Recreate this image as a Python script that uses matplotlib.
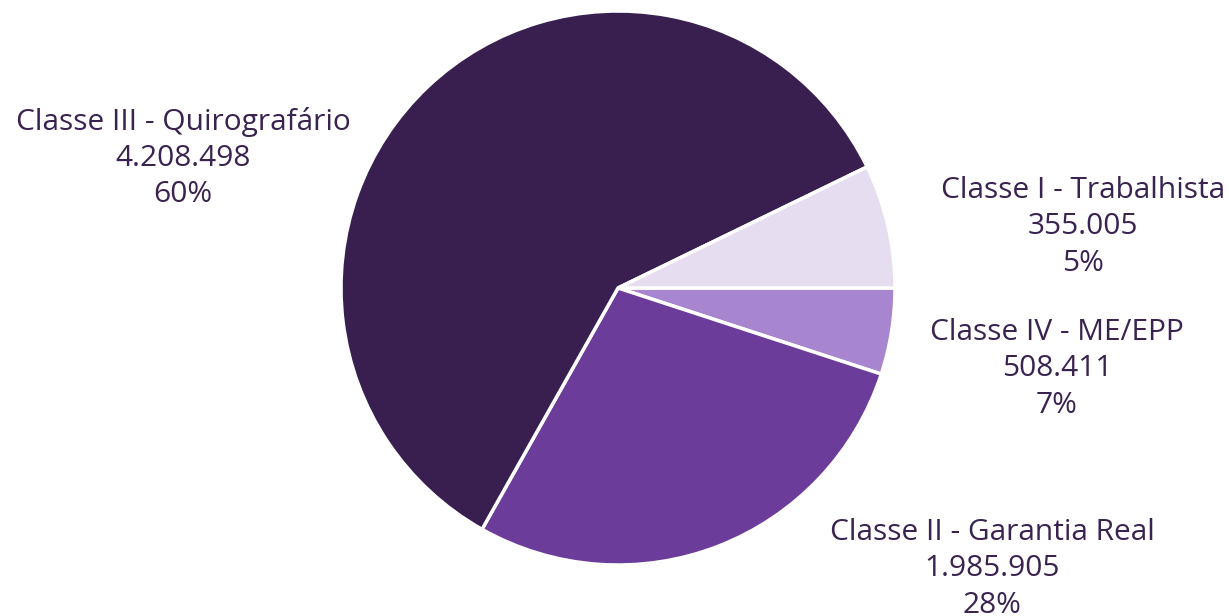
import matplotlib
matplotlib.use("Agg")
import matplotlib.pyplot as plt

# Data
categories = ["Classe I - Trabalhista", "Classe II - Garantia Real",
              "Classe III - Quirografário", "Classe IV - ME/EPP"]
values = [355005, 1985905, 4208498, 508411]
value_labels = ["355.005", "1.985.905", "4.208.498", "508.411"]
pct_labels = ["5%", "28%", "60%", "7%"]
colors = ["#A886CF", "#6B3C9A", "#381F4F", "#E6DDF0"]

# Label placement (pixel coords from top-left)
label_pos = [(1083, 227), (992, 569), (183, 158), (1057, 369)]

W, H = 1229, 616
fig = plt.figure(figsize=(W / 100, H / 100), dpi=100)
ax = fig.add_axes([0, 0, 1, 1])

cx, cy, r = 618, H - 288, 277
ax.pie(values, colors=colors, startangle=0, counterclock=False,
       center=(cx, cy), radius=r, frame=True,
       wedgeprops=dict(edgecolor="white", linewidth=2.5))
ax.set_xlim(0, W)
ax.set_ylim(0, H)
ax.set_aspect("equal")
ax.axis("off")

txt_color = "#3A2350"
for cat, v, p, (x, y) in zip(categories, value_labels, pct_labels, label_pos):
    ax.text(x, H - y, f"{cat}\n{v}\n{p}", ha="center", va="center",
            fontsize=21.5, color=txt_color, family="Open Sans", linespacing=1.32)

fig.savefig("out.png", dpi=100, facecolor="white")
